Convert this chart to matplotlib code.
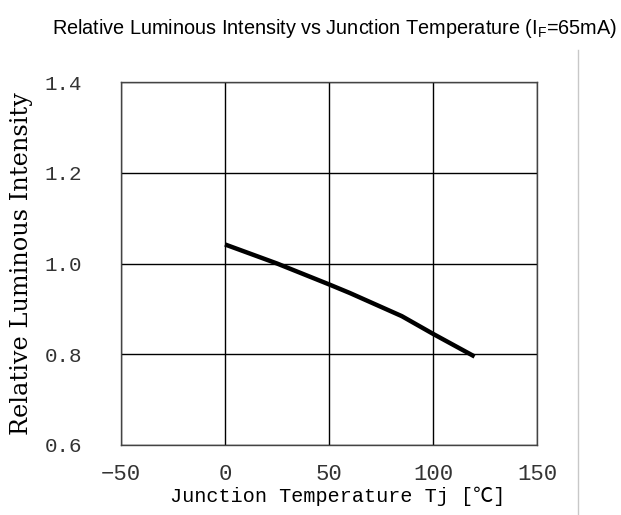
import matplotlib.pyplot as plt
from matplotlib.lines import Line2D

# datos
temp_tj = [0, 25, 50, 60, 85, 100, 120]
rel_intensity = [1.042, 1.0, 0.954, 0.935, 0.884, 0.845, 0.795]

x_ticks = [-50, 0, 50, 100, 150]
y_ticks = [0.6, 0.8, 1.0, 1.2, 1.4]

mono = ['Liberation Mono', 'Noto Sans CJK JP', 'DejaVu Sans']

fig = plt.figure(figsize=(6.21, 5.15), dpi=100)
ax = fig.add_axes([121 / 621, 1 - 445 / 515, (537 - 121) / 621, (445 - 82) / 515])

ax.plot(temp_tj, rel_intensity, color='black', linewidth=3.2, solid_capstyle='butt')

ax.set_xlim(-50, 150)
ax.set_ylim(0.6, 1.4)
ax.set_xticks(x_ticks)
ax.set_yticks(y_ticks)
ax.set_xticklabels([str(v).replace('-', '\u2212') for v in x_ticks])
ax.set_yticklabels([f"{v:.1f}" for v in y_ticks])
ax.tick_params(axis='x', length=0, pad=14, labelsize=16)
ax.tick_params(axis='y', length=0, pad=28, labelsize=15)
for lab in ax.get_xticklabels() + ax.get_yticklabels():
    lab.set_family(mono)
    lab.set_color('#333333')

ax.grid(True, color='black', linewidth=1.0)
for sp in ax.spines.values():
    sp.set_color('#444444')
    sp.set_linewidth(1.0)

ax.set_xlabel("Junction Temperature Tj [℃]", family=mono, fontsize=14.5, va='top')
ax.xaxis.set_label_coords((338 - 121) / 416, -(487 - 445) / 363)
ax.set_ylabel("Relative Luminous Intensity", family=['DejaVu Serif'], fontsize=17.3)
ax.yaxis.set_label_coords(-(121 - 33) / 416, 0.5)

fig.text(335 / 621, 1 - 28 / 515, "Relative Luminous Intensity vs Junction Temperature (I$_\\mathregular{F}$=65mA)",
         ha='center', va='center', fontsize=14.3, family=['Liberation Sans'])

# linea vertical gris a la derecha
fig.add_artist(Line2D([578 / 621, 578 / 621], [0, 1 - 50 / 515], transform=fig.transFigure,
                      color='#c8c8c8', linewidth=1))

fig.savefig('out.png', dpi=100)
